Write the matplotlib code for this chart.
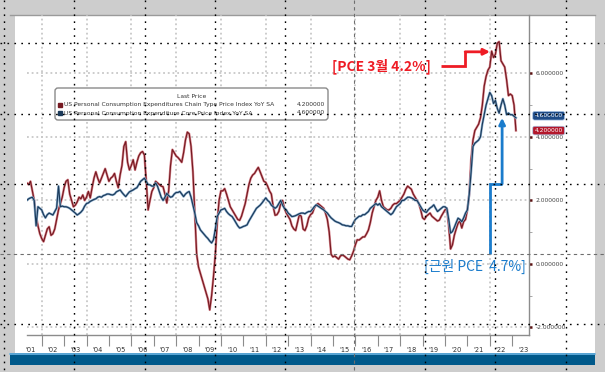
import numpy as np
import pandas as pd
import matplotlib
matplotlib.use("Agg")
import matplotlib.pyplot as plt
import matplotlib.patheffects as pe
from matplotlib.patches import Rectangle, FancyBboxPatch
from matplotlib.colors import LinearSegmentedColormap

# monthly data, May 2001 .. Mar 2023 (YoY %)
months = pd.date_range("2001-05-01", "2023-03-01", freq="MS")

pce = [
    2.55, 2.5, 2.6, 2.3, 2.0, 1.5, 1.2, 0.95,                        # 2001
    0.8, 0.7, 0.9, 1.1, 1.17, 0.9, 0.95, 1.1, 1.4, 1.7, 1.9, 2.1,      # 2002
    2.4, 2.6, 2.65, 2.2, 2.0, 1.8, 1.85, 1.95, 2.1, 2.05, 2.17, 2.0,   # 2003
    2.1, 2.28, 2.08, 2.4, 2.7, 2.9, 2.7, 2.55, 2.7, 2.85, 3.0, 2.8,    # 2004
    2.6, 2.7, 2.75, 2.85, 2.6, 2.4, 2.8, 3.1, 3.7, 3.85, 3.2, 2.96,    # 2005
    3.1, 3.28, 2.96, 3.2, 3.4, 3.5, 3.54, 3.43, 2.6, 1.7, 2.0, 2.28,   # 2006
    2.4, 2.6, 2.55, 2.5, 2.45, 2.43, 2.2, 1.92, 2.3, 3.1, 3.6, 3.5,    # 2007
    3.4, 3.35, 3.28, 3.2, 3.5, 3.9, 4.15, 4.1, 3.7, 2.9, 1.6, 0.3,     # 2008
    -0.1, -0.3, -0.5, -0.7, -0.9, -1.1, -1.45, -1.0, -0.4, 0.3, 1.3, 2.0,  # 2009
    2.3, 2.3, 2.37, 2.2, 2.0, 1.8, 1.7, 1.6, 1.5, 1.4, 1.37, 1.5,      # 2010
    1.7, 1.9, 2.2, 2.5, 2.7, 2.8, 2.85, 2.95, 3.04, 2.9, 2.75, 2.6,    # 2011
    2.57, 2.45, 2.3, 2.2, 1.8, 1.53, 1.55, 1.65, 1.9, 2.0, 1.75, 1.6,  # 2012
    1.5, 1.4, 1.2, 1.1, 1.05, 1.3, 1.55, 1.5, 1.1, 1.05, 1.2, 1.45,    # 2013
    1.55, 1.6, 1.76, 1.85, 1.9, 1.85, 1.8, 1.75, 1.6, 1.4, 1.0, 0.3,   # 2014
    0.22, 0.25, 0.2, 0.15, 0.25, 0.28, 0.25, 0.2, 0.15, 0.13, 0.25, 0.4,  # 2015
    0.6, 0.76, 0.75, 0.8, 0.85, 0.85, 0.95, 1.07, 1.3, 1.6, 1.8, 2.0,  # 2016
    2.1, 2.3, 2.0, 1.8, 1.75, 1.7, 1.7, 1.75, 1.85, 1.9, 1.9, 1.95,    # 2017
    2.0, 2.1, 2.2, 2.35, 2.45, 2.4, 2.35, 2.2, 2.1, 2.0, 1.9, 1.7,     # 2018
    1.45, 1.4, 1.5, 1.55, 1.6, 1.5, 1.45, 1.4, 1.35, 1.38, 1.5, 1.6,   # 2019
    1.7, 1.75, 1.2, 0.47, 0.6, 0.9, 1.1, 1.28, 1.35, 1.13, 1.33, 1.4,  # 2020
    1.7, 2.2, 3.3, 3.9, 4.2, 4.3, 4.4, 4.6, 5.0, 5.6, 5.9, 6.1,        # 2021
    6.2, 6.7, 6.5, 6.6, 6.95, 7.0, 6.4, 6.3, 6.2, 5.8, 5.3, 5.35,      # 2022
    5.3, 5.0, 4.2,                                                     # 2023
]

core = [
    2.0, 2.05, 2.08, 2.1, 2.0, 1.2, 1.8, 1.75,                         # 2001
    1.7, 1.55, 1.45, 1.55, 1.6, 1.57, 1.54, 1.65, 1.76, 2.45, 1.8, 1.82,  # 2002
    1.8, 1.8, 1.78, 1.75, 1.7, 1.65, 1.6, 1.54, 1.58, 1.63, 1.7, 1.82,  # 2003
    1.9, 1.92, 1.97, 2.0, 2.03, 2.05, 2.1, 2.12, 2.1, 2.15, 2.17, 2.2,  # 2004
    2.2, 2.18, 2.17, 2.2, 2.27, 2.3, 2.33, 2.25, 2.18, 2.12, 2.2, 2.27,  # 2005
    2.3, 2.33, 2.37, 2.4, 2.5, 2.6, 2.65, 2.7, 2.6, 2.5, 2.49, 2.45,   # 2006
    2.45, 2.55, 2.45, 2.28, 2.1, 2.0, 2.1, 2.22, 2.15, 2.1, 2.12, 2.2,  # 2007
    2.25, 2.25, 2.28, 2.2, 2.12, 2.2, 2.25, 2.28, 2.1, 1.85, 1.6, 1.3,  # 2008
    1.2, 1.07, 1.0, 0.93, 0.86, 0.8, 0.72, 0.66, 0.76, 1.1, 1.49, 1.6,  # 2009
    1.7, 1.72, 1.75, 1.65, 1.58, 1.53, 1.49, 1.4, 1.3, 1.2, 1.13, 1.15,  # 2010
    1.18, 1.2, 1.23, 1.35, 1.45, 1.55, 1.65, 1.75, 1.8, 1.85, 1.92, 2.0,  # 2011
    2.08, 2.0, 1.95, 1.85, 1.8, 1.75, 1.8, 1.9, 2.0, 1.85, 1.75, 1.7,  # 2012
    1.6, 1.55, 1.49, 1.5, 1.52, 1.55, 1.58, 1.6, 1.6, 1.58, 1.62, 1.65,  # 2013
    1.65, 1.72, 1.8, 1.86, 1.82, 1.78, 1.74, 1.7, 1.65, 1.6, 1.52, 1.45,  # 2014
    1.4, 1.35, 1.32, 1.3, 1.27, 1.23, 1.22, 1.2, 1.2, 1.18, 1.18, 1.3,  # 2015
    1.4, 1.45, 1.5, 1.5, 1.55, 1.55, 1.6, 1.65, 1.75, 1.8, 1.85, 1.9,  # 2016
    1.85, 1.9, 1.8, 1.75, 1.7, 1.65, 1.6, 1.55, 1.6, 1.7, 1.8, 1.85,   # 2017
    1.9, 2.0, 2.0, 2.05, 2.1, 2.1, 2.08, 2.05, 2.0, 2.0, 1.9, 1.8,     # 2018
    1.7, 1.65, 1.62, 1.7, 1.76, 1.8, 1.86, 1.75, 1.65, 1.7, 1.75, 1.8,  # 2019
    1.8, 1.75, 1.4, 0.97, 1.02, 1.15, 1.3, 1.44, 1.4, 1.33, 1.45, 1.6,  # 2020
    1.7, 2.2, 2.9, 3.7, 3.8, 3.85, 3.9, 4.0, 4.4, 4.7, 5.0, 5.2,       # 2021
    5.4, 5.3, 5.05, 5.15, 4.9, 4.75, 5.0, 5.2, 5.0, 4.7, 4.75, 4.7,    # 2022
    4.7, 4.65, 4.6,                                                    # 2023
]

year_labels = ["'%02d" % (y % 100) for y in range(2001, 2024)]
y_ticks = [-2, 0, 2, 4, 6]
pce_name = "US Personal Consumption Expenditures Chain Type Price Index YoY SA"
core_name = "US Personal Consumption Expenditure Core Price Index YoY SA"
note_pce = "[PCE 3월 4.2%]"
note_core = "[근원 PCE  4.7%]"

RED = "#761a22"
NAVY = "#1b3a5a"
KO = ["Noto Sans CJK KR", "DejaVu Sans"]

W, H = 605, 372
fig = plt.figure(figsize=(W / 100, H / 100), dpi=100, facecolor="#cdcdcd")

# --- screen background (pixel coords) ---
bg = fig.add_axes([0, 0, 1, 1], zorder=0)
bg.add_patch(Rectangle((15, 15), 580, 338, facecolor="white", edgecolor="none"))
fade = LinearSegmentedColormap.from_list("fade", ["#ffffff", "#dadada"])
bg.imshow(np.linspace(0, 1, 100)[:, None], extent=(15, 595, 353, 250),
          cmap=fade, aspect="auto", origin="upper")
bg.plot([10, 595], [14.5, 14.5], color="#9a9a9a", lw=1)
bg.add_patch(Rectangle((10, 353), 585, 12, facecolor="#00598a", edgecolor="none"))
bg.plot([10, 595], [354, 354], color="#6ab4e2", lw=1.2)
bg.set_xlim(0, W)
bg.set_ylim(H, 0)
bg.axis("off")

# --- chart ---
ax = fig.add_axes([27 / W, 1 - 335 / H, (529 - 27) / W, (335 - 15) / H], zorder=1)
ax.patch.set_alpha(0)
x = months.year + (months.month - 1) / 12

ax.plot(x, pce, color=RED, lw=0.85,
        path_effects=[pe.Stroke(linewidth=1.7, foreground="#d98890"), pe.Normal()])
ax.plot(x, core, color=NAVY, lw=0.85,
        path_effects=[pe.Stroke(linewidth=1.7, foreground="#8fb0cf"), pe.Normal()])

ax.set_xlim(2001.344, 2023.75)
ax.set_ylim(-2.24, 7.84)

for s in ["left", "top"]:
    ax.spines[s].set_visible(False)
for s in ["bottom", "right"]:
    ax.spines[s].set_color("#8c8c8c")
    ax.spines[s].set_linewidth(1.0)

grid_kw = dict(color="#c8c8c8", lw=1.3, linestyle=(0, (1, 1.6)), zorder=0)
for v in y_ticks:
    ax.axhline(v, **grid_kw)
for yr in range(2002, 2023, 2):
    ax.axvline(yr, **grid_kw)

ax.yaxis.tick_right()
ax.set_yticks(y_ticks)
ax.set_yticklabels([f"{v:.6f}" for v in y_ticks])
ax.set_yticks([-1, 1, 3, 5, 7], minor=True)
ax.tick_params(axis="y", which="major", length=2.5, width=1.8, color="#5a1010",
               labelsize=4.3, labelcolor="#444444", pad=2)
ax.tick_params(axis="y", which="minor", length=2, width=0.6, color="#999999")

ax.set_xticks(range(2002, 2024))
ax.set_xticklabels([])
ax.set_xticks([y + 0.5 for y in range(2001, 2024)], minor=True)
ax.set_xticklabels(year_labels, minor=True)
ax.tick_params(axis="x", which="major", length=8, width=0.8, color="#8c8c8c")
ax.tick_params(axis="x", which="minor", length=0, pad=9, labelsize=4.8,
               labelcolor="#333333")

# last value tags on the right axis
for val, col, dy in [(core[-1], "#1d4a86", 1.5), (pce[-1], "#b3172b", 0)]:
    ax.annotate(f"{val:.6f}", xy=(1, val), xycoords=("axes fraction", "data"),
                xytext=(4, dy), textcoords="offset points", ha="left", va="center",
                fontsize=4.3, color="white", annotation_clip=False,
                bbox=dict(boxstyle="round,pad=0.3", fc=col, ec="#a8c4e6", lw=0.5))

# callouts
red_c = "#ee1c25"
blue_c = "#1b7ccc"
ax.text(2019.35, 6.24, note_pce, ha="right", va="center", fontsize=10,
        fontweight="bold", color=red_c, family=KO)
ax.plot([2019.83, 2020.9, 2020.9], [6.24, 6.24, 6.68], color=red_c, lw=2,
        solid_joinstyle="miter", solid_capstyle="butt")
ax.annotate("", xy=(2022.01, 6.68), xytext=(2020.9, 6.68),
            arrowprops=dict(arrowstyle="-|>", color=red_c, lw=2,
                            mutation_scale=9, shrinkA=0, shrinkB=0))

ax.text(2023.62, -0.09, note_core, ha="right", va="center", fontsize=10,
        color=blue_c, family=KO)
ax.plot([2022.01, 2022.01, 2022.55], [0.31, 2.52, 2.52], color=blue_c, lw=2,
        solid_joinstyle="miter", solid_capstyle="butt")
ax.annotate("", xy=(2022.55, 4.6), xytext=(2022.55, 2.52),
            arrowprops=dict(arrowstyle="-|>", color=blue_c, lw=2,
                            mutation_scale=9, shrinkA=0, shrinkB=0))

# --- overlay: legend box and screen dotted lines (pixel coords) ---
ov = fig.add_axes([0, 0, 1, 1], zorder=5)
ov.patch.set_alpha(0)
ov.set_xlim(0, W)
ov.set_ylim(H, 0)
ov.axis("off")

ov.add_patch(FancyBboxPatch((55, 88), 273, 32, boxstyle="round,pad=0,rounding_size=3",
                            fc="white", ec="#8a8a8a", lw=1.0))
ov.text(192, 96.5, "Last Price", ha="center", va="center", fontsize=4.3, color="#333333")
rows = [(pce_name, pce[-1], RED), (core_name, core[-1], NAVY)]
for i, (name, val, col) in enumerate(rows):
    yy = 104.5 + 8.5 * i
    ov.plot(60, yy, marker="s", ms=3.2, color=col)
    ov.text(64, yy, name, ha="left", va="center", fontsize=4.3, color="#333333")
    ov.text(325, yy, f"{val:.6f}", ha="right", va="center", fontsize=4.3, color="#333333")

dot = dict(color="black", lw=1.0, linestyle=(0, (1.2, 3.8)), zorder=20)
dash = dict(color="#6e6e6e", lw=0.8, linestyle=(0, (3, 3)), zorder=20)
for yy in [43, 114, 184, 324]:
    ov.plot([0, W], [yy, yy], **dot)
for xx in [4, 74, 145, 215, 285, 425, 495, 566]:
    ov.plot([xx, xx], [0, H], **dot)
ov.plot([0, W], [254, 254], **dash)
ov.plot([354, 354], [0, H], **dash)

fig.savefig("out.png", dpi=100, facecolor=fig.get_facecolor())
